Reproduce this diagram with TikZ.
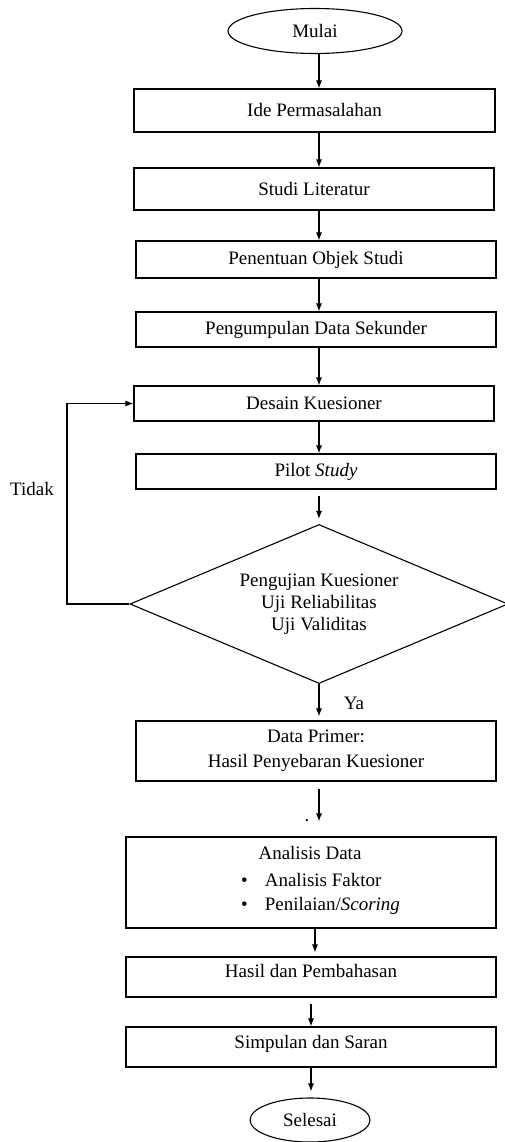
\documentclass[tikz,border=0pt]{standalone}
\usepackage{fontspec}
\setmainfont{Liberation Serif}
\usetikzlibrary{shapes.geometric,arrows.meta}
\tikzset{
  proses/.style={draw, rectangle, line width=1.1pt, inner sep=0pt, align=center},
  terminal/.style={draw, ellipse, line width=1.1pt, inner sep=0pt},
  keputusan/.style={draw, diamond, aspect=2.4, line width=1.1pt, inner sep=0pt, align=center},
  panah/.style={line width=1.1pt, -{Latex[length=8pt,width=6pt]}},
  garis/.style={line width=1.1pt}
}

\begin{document}
\begin{tikzpicture}[x=1pt, y=-1pt, font=\fontsize{19}{22}\selectfont]
      \useasboundingbox (0,0) rectangle (504,1142);
      \def\lb{360pt}
      \def\tb{35pt}

      % Terminals
      \node[terminal, minimum width=174pt, minimum height=45pt] (mulai) at (315,31) {Mulai};
      \node[terminal, minimum width=120pt, minimum height=44pt] (selesai) at (310,1120) {Selesai};

      % Boxes
      \node[proses, minimum width=361pt, minimum height=43pt] (ide) at (314.5,110.5) {Ide Permasalahan};
      \node[proses, minimum width=\lb, minimum height=42pt] (studi) at (314,189) {Studi Literatur};
      \node[proses, minimum width=\lb, minimum height=37pt] (objek) at (316,259.5) {Penentuan Objek Studi};
      \node[proses, minimum width=\lb, minimum height=\tb] (sekunder) at (316,329.5) {Pengumpulan Data Sekunder};
      \node[proses, minimum width=\lb, minimum height=\tb] (desain) at (314,403.5) {Desain Kuesioner};
      \node[proses, minimum width=\lb, minimum height=\tb] (pilot) at (316,471.5) {Pilot \textit{Study}};
      \node[proses, minimum width=\lb, minimum height=60pt] (primer) at (316,751) {Data Primer:\\[3pt]Hasil Penyebaran Kuesioner};
      \node[proses, minimum width=370pt, minimum height=91pt] (analisis) at (311,882.5) {};
      \node[proses, minimum width=370pt, minimum height=40pt, text depth=12pt] (hasil) at (311,977) {Hasil dan Pembahasan};
      \node[proses, minimum width=370pt, minimum height=40pt, text depth=10pt] (simpulan) at (311,1047) {Simpulan dan Saran};

      % Decision
      \node[keputusan, minimum width=378pt, minimum height=159pt] (uji) at (319,604)
            {Pengujian Kuesioner\\Uji Reliabilitas\\Uji Validitas};

      % Analisis contents
      \node (judul) at (310,853) {Analisis Data};
      \node[anchor=west, inner sep=0pt] (faktor) at (241,880) {\textbullet\hspace{17pt}Analisis Faktor};
      \node[anchor=west, inner sep=0pt] (skor) at (241,906) {\textbullet\hspace{17pt}Penilaian/\textit{Scoring}};

      % Labels
      \node (tidak) at (32,489) {Tidak};
      \node (ya) at (354,703) {Ya};
      \node[inner sep=0pt] (titik) at (307,821) {.};

      % Arrows
      \draw[panah] (mulai.south -| uji) -- (ide.north -| uji);
      \draw[panah] (ide.south -| uji) -- (studi.north -| uji);
      \draw[panah] (studi.south -| uji) -- (objek.north -| uji);
      \draw[panah] (objek.south -| uji) -- (sekunder.north -| uji);
      \draw[panah] (sekunder.south -| uji) -- (desain.north -| uji);
      \draw[panah] (desain.south -| uji) -- (pilot.north -| uji);
      \draw[panah, shorten <=6pt, shorten >=5pt] (pilot.south -| uji) -- (uji.north);
      \draw[panah, shorten >=4pt] (uji.south) -- (primer.north -| uji);
      \draw[panah, shorten <=7pt, shorten >=15pt] (primer.south -| uji) -- (analisis.north -| uji);
      \draw[panah, shorten >=4pt] (analisis.south -| mulai) -- (hasil.north -| mulai);
      \draw[panah, shorten <=6pt] (hasil.south) -- (simpulan.north);
      \draw[panah, shorten >=6pt] (simpulan.south) -- (selesai.north -| simpulan);

      % Loop back
      \coordinate (sudut) at (67,0);
      \draw[panah] (uji.west) -- (uji.west -| sudut) |- (desain.west);
    \end{tikzpicture}
\end{document}
